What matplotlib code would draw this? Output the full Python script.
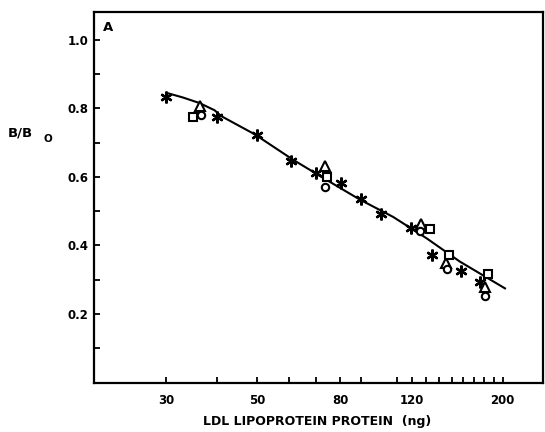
import numpy as np
import matplotlib
matplotlib.use("Agg")
import matplotlib.pyplot as plt
from matplotlib.ticker import FixedLocator, NullLocator

plt.rcParams['font.family'] = ['DejaVu Sans']
plt.rcParams['font.weight'] = 'bold'

# fitted curve
curve_x = [30.2, 33, 36.2, 39.4, 40.9, 49.4, 61.3, 74.1, 89.3, 107.9, 130.2, 157.1, 202.6]
curve_y = [0.844, 0.831, 0.815, 0.794, 0.777, 0.724, 0.650, 0.591, 0.534, 0.483, 0.421, 0.353, 0.275]

# asterisks
star_x = [30, 40, 50, 60.8, 70, 80.6, 90, 100.5, 119, 134, 158, 176]
star_y = [0.833, 0.773, 0.723, 0.646, 0.610, 0.581, 0.534, 0.493, 0.452, 0.372, 0.327, 0.294]

# triangles
tri_x = [36.3, 73.6, 126.1, 145.2, 181.4]
tri_y = [0.807, 0.631, 0.462, 0.348, 0.280]

# circles
circ_x = [36.6, 73.6, 125.6, 146.2, 181.4]
circ_y = [0.779, 0.571, 0.443, 0.330, 0.252]

# squares
sq_x = [34.8, 74.1, 132.7, 147.6, 183.6]
sq_y = [0.774, 0.600, 0.447, 0.372, 0.316]

xticks = [30, 40, 50, 60, 70, 80, 90, 110, 120, 130, 140, 150, 160, 170, 180, 190, 200]
xtick_labels = ['30', '', '50', '', '', '80', '', '', '120', '', '', '', '', '', '', '', '200']
yticks_major = [0.2, 0.4, 0.6, 0.8, 1.0]
yticks_minor = [0.1, 0.3, 0.5, 0.7, 0.9]

fig = plt.figure(figsize=(5.45, 4.32), dpi=100)
ax = fig.add_axes([0.173, 0.114, 0.8233, 0.858])

ax.plot(curve_x, curve_y, color='black', lw=1.5, zorder=2)
ax.plot(star_x, star_y, ls='none', marker=(6, 2, 0), ms=8.5, mew=1.7, color='black', zorder=3)
ax.plot(tri_x, tri_y, ls='none', marker='^', ms=7, mew=1.5, mfc='white', mec='black', zorder=3)
ax.plot(circ_x, circ_y, ls='none', marker='o', ms=5.3, mew=1.5, mfc='white', mec='black', zorder=3)
ax.plot(sq_x, sq_y, ls='none', marker='s', ms=5.3, mew=1.5, mfc='white', mec='black', zorder=3)

ax.set_xscale('log')
ax.set_xlim(20, 251)
ax.set_ylim(0, 1.08)

ax.xaxis.set_major_locator(FixedLocator(xticks))
ax.xaxis.set_minor_locator(NullLocator())
ax.set_xticklabels(xtick_labels)
ax.set_yticks(yticks_major)
ax.set_yticks(yticks_minor, minor=True)
ax.set_yticklabels(['0.2', '0.4', '0.6', '0.8', '1.0'])

ax.tick_params(axis='both', which='both', direction='in', width=1.3, length=4.5, labelsize=8.5)
ax.tick_params(axis='x', pad=8)
ax.tick_params(axis='y', pad=4)
for s in ax.spines.values():
    s.set_linewidth(1.6)

ax.text(0.02, 0.975, 'A', transform=ax.transAxes, ha='left', va='top', fontsize=9.5, fontweight='bold')

fig.text(8 / 545, 1 - 133 / 432, 'B/B', ha='left', va='center', fontsize=9.5, fontweight='bold')
fig.text(43 / 545, 1 - 139 / 432, 'O', ha='left', va='center', fontsize=7.5, fontweight='bold')
fig.text(317 / 545, 1 - 422 / 432, 'LDL LIPOPROTEIN PROTEIN  (ng)', ha='center', va='center',
         fontsize=9, fontweight='bold')

fig.savefig('out.png', dpi=100)
